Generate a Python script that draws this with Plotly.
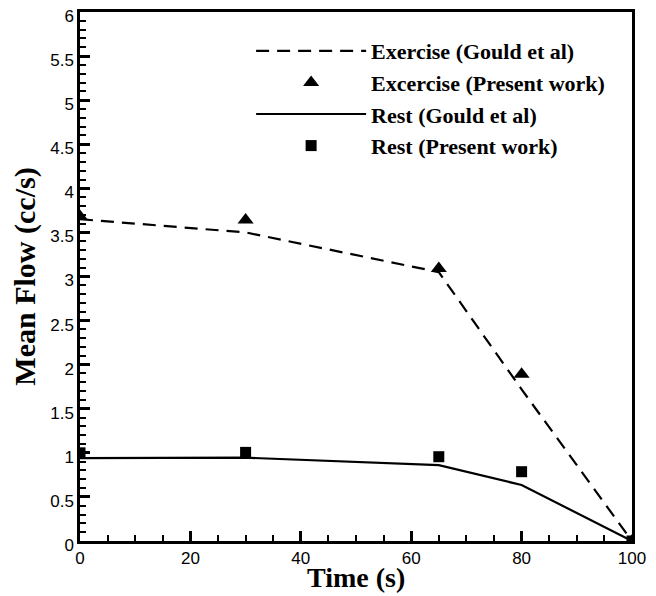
import plotly.graph_objects as go

time_gould = [0, 30, 65, 80, 100]
exercise_gould = [3.65, 3.50, 3.05, 1.72, 0.0]
rest_gould = [0.94, 0.945, 0.86, 0.635, 0.0]

time_present = [0, 30, 65, 80, 100]
exercise_present = [3.68, 3.64, 3.09, 1.89, 0.0]
rest_present = [1.0, 1.005, 0.956, 0.786, 0.0]

x_ticks = [0, 20, 40, 60, 80, 100]
y_ticks = [0, 0.5, 1, 1.5, 2, 2.5, 3, 3.5, 4, 4.5, 5, 5.5, 6]
y_tick_labels = ["0", "0.5", "1", "1.5", "2", "2.5", "3", "3.5", "4", "4.5", "5", "5.5", "6"]

fig = go.Figure()
fig.add_trace(go.Scatter(x=time_gould, y=exercise_gould, mode="lines",
                         name="Exercise (Gould et al)",
                         line=dict(color="black", width=2.2, dash="13px,8px")))
fig.add_trace(go.Scatter(x=time_present, y=exercise_present, mode="markers",
                         name="Excercise (Present work)",
                         marker=dict(symbol="triangle-up", size=14, color="black")))
fig.add_trace(go.Scatter(x=time_gould, y=rest_gould, mode="lines",
                         name="Rest (Gould et al)",
                         line=dict(color="black", width=2.2)))
fig.add_trace(go.Scatter(x=time_present, y=rest_present, mode="markers",
                         name="Rest (Present work)",
                         marker=dict(symbol="square", size=11, color="black")))

serif = "Liberation Serif, Times New Roman, serif"
axis_common = dict(showgrid=False, zeroline=False, showline=True, linecolor="black",
                   linewidth=2.5, mirror=True, ticks="inside", ticklen=10, tickwidth=2.5,
                   tickcolor="black", automargin=False, ticklabeloverflow="allow",
                   tickfont=dict(family="Liberation Sans, Arial", size=17, color="black"))

fig.update_xaxes(range=[0, 100], tickvals=x_ticks, ticktext=[str(v) for v in x_ticks],
                 minor=dict(dtick=5, ticks="inside", ticklen=6, tickwidth=1.5, tickcolor="black"),
                 **axis_common)
fig.update_yaxes(range=[0, 6], tickvals=y_ticks, ticktext=y_tick_labels, ticklabelshift=4,
                 title=dict(text="Mean Flow (cc/s)", standoff=6,
                            font=dict(family=serif, size=30, color="black", weight="bold")),
                 minor=dict(dtick=0.1, ticks="inside", ticklen=6, tickwidth=1.5, tickcolor="black"),
                 **axis_common)

fig.add_annotation(text="Time (s)", xref="paper", yref="paper", x=0.5, y=0,
                   xanchor="center", yanchor="middle", yshift=-36, showarrow=False,
                   font=dict(family=serif, size=28, color="black", weight="bold"))

fig.update_layout(
    width=656, height=596,
    margin=dict(l=72, r=32, t=4, b=63),
    plot_bgcolor="white", paper_bgcolor="white",
    legend=dict(x=0.31, y=0.966, xanchor="left", yanchor="top",
                bgcolor="rgba(0,0,0,0)", itemwidth=110,
                font=dict(family=serif, size=22, color="black", weight="bold")),
)

fig.write_html("out.html")
